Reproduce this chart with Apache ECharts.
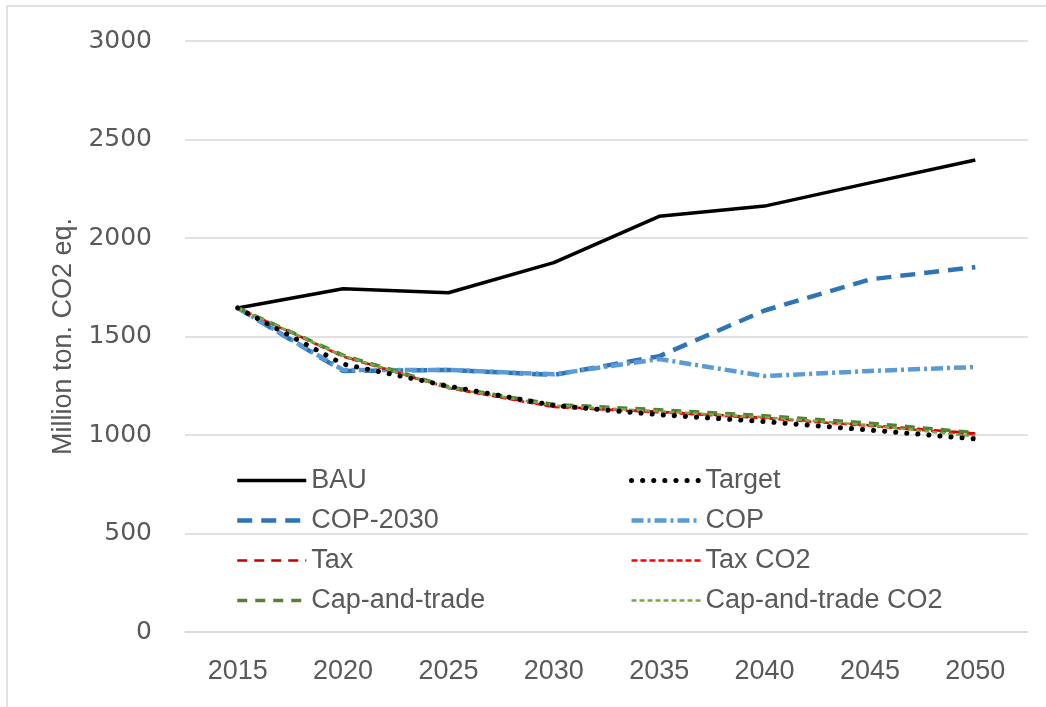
<!DOCTYPE html>
<html>
<head>
<meta charset="utf-8">
<script src="https://cdn.jsdelivr.net/npm/echarts@6/dist/echarts.min.js"></script>
<style>
  html, body { margin: 0; padding: 0; background: #fff; }
  #chart { width: 1046px; height: 707px; }
</style>
</head>
<body>
<div id="chart"></div>
<script>
// data
const years = ['2015', '2020', '2025', '2030', '2035', '2040', '2045', '2050']
const bau = [1645, 1742, 1722, 1875, 2110, 2162, 2280, 2396]
const target = [1645, 1360, 1248, 1150, 1103, 1068, 1025, 980]
const cop2030 = [1645, 1325, 1330, 1305, 1400, 1632, 1790, 1852]
const cop = [1645, 1330, 1330, 1308, 1386, 1299, 1325, 1345]
const tax = [1645, 1400, 1240, 1145, 1118, 1088, 1050, 1008]
const taxCo2 = [1645, 1398, 1238, 1142, 1115, 1085, 1046, 1003]
const capTrade = [1645, 1405, 1245, 1155, 1128, 1098, 1060, 1012]
const capTradeCo2 = [1645, 1402, 1240, 1150, 1120, 1090, 1050, 992]

const chart = echarts.init(document.getElementById('chart'))

// line styles shared by series and legend icons
const styles = {
  'BAU': { color: '#000000', width: 3.5, type: 'solid', cap: 'butt' },
  'Target': { color: '#000000', width: 5, type: [0.1, 11], cap: 'round' },
  'COP-2030': { color: '#2E75B6', width: 4.5, type: [15, 9], cap: 'butt' },
  'COP': { color: '#5B9BD5', width: 4.5, type: [12, 4, 3, 4], cap: 'butt' },
  'Tax': { color: '#C00000', width: 2.5, type: [10, 7], cap: 'butt' },
  'Tax CO2': { color: '#FF0000', width: 2.5, type: [6, 3], cap: 'butt' },
  'Cap-and-trade': { color: '#548235', width: 3.5, type: [10, 8], cap: 'butt' },
  'Cap-and-trade CO2': { color: '#70AD47', width: 2.5, type: [5, 3], cap: 'butt' }
}

const line = (name, data, z) => ({
  name: name,
  type: 'line',
  data: data,
  symbol: 'none',
  z: z,
  lineStyle: styles[name],
  itemStyle: { color: styles[name].color },
  emphasis: { disabled: true }
})

const legendText = { color: '#595959', fontSize: 27, fontFamily: 'Liberation Sans', lineHeight: 27 }

const legendItems = names => names.map(n => ({
  name: n,
  lineStyle: styles[n],
  itemStyle: { opacity: 0 }
}))

const legendBase = {
  orient: 'vertical',
  top: 467,
  itemWidth: 69,
  itemHeight: 14,
  itemGap: 13,
  padding: 0,
  itemStyle: { opacity: 0 },
  textStyle: legendText
}

const option = {
  animation: false,
  backgroundColor: '#fff',
  graphic: [{
    type: 'rect',
    shape: { x: 7, y: 6, width: 1100, height: 800 },
    style: { fill: 'none', stroke: '#d9d9d9', lineWidth: 1.5 },
    silent: true
  }],
  grid: { left: 185, right: 18, top: 41, bottom: 75 },
  legend: [
    Object.assign({}, legendBase, { left: 235, data: legendItems(['BAU', 'COP-2030', 'Tax', 'Cap-and-trade']) }),
    Object.assign({}, legendBase, { left: 629, data: legendItems(['Target', 'COP', 'Tax CO2', 'Cap-and-trade CO2']) })
  ],
  xAxis: {
    type: 'category',
    data: years,
    boundaryGap: true,
    axisLine: { lineStyle: { color: '#d9d9d9', width: 1.5 } },
    axisTick: { show: false },
    axisLabel: { color: '#595959', fontSize: 27, fontFamily: 'Liberation Sans', margin: 26 }
  },
  yAxis: {
    type: 'value',
    min: 0,
    max: 3000,
    interval: 500,
    name: 'Million ton. CO2 eq.',
    nameLocation: 'middle',
    nameRotate: 90,
    nameGap: 108,
    nameTextStyle: { color: '#595959', fontSize: 27, fontFamily: 'Liberation Sans' },
    axisLine: { show: false },
    axisTick: { show: false },
    splitLine: { lineStyle: { color: '#d9d9d9', width: 1.5 } },
    axisLabel: {
      color: '#595959', fontSize: 25, fontFamily: 'DejaVu Sans', margin: 33,
      formatter: v => String(v)
    }
  },
  series: [
    line('BAU', bau, 2),
    line('COP-2030', cop2030, 3),
    line('COP', cop, 4),
    line('Tax', tax, 5),
    line('Tax CO2', taxCo2, 6),
    line('Cap-and-trade', capTrade, 7),
    line('Cap-and-trade CO2', capTradeCo2, 8),
    line('Target', target, 9)
  ]
}

chart.setOption(option)
</script>
</body>
</html>
